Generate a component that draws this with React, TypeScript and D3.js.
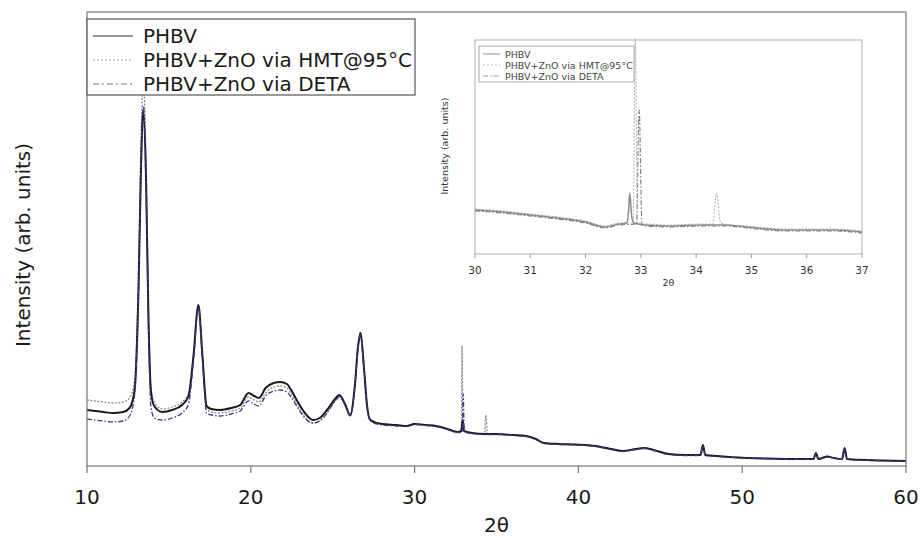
import React from "react";
import * as d3 from "d3";

type Pt = [number, number];

// ---- Main chart data: [2θ, intensity (arb. units)] ----
const phbv: Pt[] = [
  [10, 56], [10.5, 55], [11, 54], [11.6, 53], [12.2, 54], [12.6, 58], [12.9, 75], [13.15, 180],
  [13.3, 300], [13.44, 356], [13.6, 290], [13.75, 150], [13.9, 75], [14.1, 60], [14.6, 54],
  [15.2, 56], [15.8, 61], [16.2, 70], [16.5, 110], [16.8, 161], [17.05, 110], [17.3, 60],
  [17.6, 57], [18.1, 56], [18.8, 58], [19.35, 61], [19.86, 73], [20.2, 70], [20.5, 68],
  [20.9, 78], [21.4, 83], [21.8, 84], [22.2, 82], [22.5, 75], [22.8, 66], [23.3, 53],
  [23.8, 46], [24.2, 48], [24.65, 56], [25.1, 66], [25.4, 71], [25.75, 62], [26.07, 51],
  [26.35, 80], [26.55, 120], [26.7, 133], [26.9, 100], [27.1, 60], [27.3, 46], [28.0, 42],
  [28.9, 41], [29.5, 40], [30.0, 42], [30.7, 41], [31.3, 40], [32.0, 37], [32.6, 34],
  [32.85, 35], [32.93, 46], [33.02, 35], [33.5, 33], [34.27, 32], [35.0, 32], [36.0, 31],
  [36.8, 30], [37.4, 27], [37.9, 23], [38.8, 22], [39.8, 21.5], [41.05, 20], [42.0, 17],
  [42.75, 15], [43.5, 17], [44.0, 18], [44.6, 16], [45.5, 12], [46.5, 11], [47.45, 11],
  [47.6, 21], [47.75, 11], [48.5, 10], [50.0, 8.3], [51.5, 7.5], [53.4, 7], [54.35, 7],
  [54.5, 13], [54.65, 7], [55.2, 9.4], [55.6, 8], [56.1, 7], [56.25, 18], [56.4, 7],
  [57.5, 6], [60.0, 5],
];

const hmt: Pt[] = [
  [10, 66], [11, 64], [11.6, 63], [12.2, 64], [12.6, 68], [12.9, 85], [13.15, 200],
  [13.3, 330], [13.44, 385], [13.6, 310], [13.75, 160], [13.9, 80], [14.1, 64], [14.6, 57],
  [15.2, 59], [15.8, 64], [16.2, 72], [16.5, 110], [16.8, 160], [17.05, 108], [17.3, 57],
  [17.6, 54], [18.1, 53], [18.8, 55], [19.35, 58], [19.86, 69], [20.2, 66], [20.5, 64],
  [20.9, 73], [21.4, 79], [21.8, 80], [22.2, 78], [22.5, 71], [22.8, 62], [23.3, 49],
  [23.8, 43], [24.2, 45], [24.65, 53], [25.1, 64], [25.4, 70], [25.75, 61], [26.07, 50],
  [26.35, 80], [26.55, 120], [26.7, 134], [26.9, 100], [27.1, 60], [27.3, 46], [28.0, 42],
  [28.9, 41], [29.5, 40], [30, 42], [30.7, 41], [31.3, 40], [32, 37], [32.6, 34],
  [32.85, 35], [32.9, 120], [32.95, 35], [33.5, 33], [34.27, 32], [34.35, 51], [34.45, 32],
  [35, 32], [36, 31], [36.8, 30], [37.4, 27], [37.9, 23], [38.8, 22], [39.8, 21.5],
  [41.05, 20], [42, 17], [42.75, 15], [43.5, 17], [44, 18], [44.6, 16], [45.5, 12],
  [46.5, 11], [47.45, 11], [47.6, 20], [47.75, 11], [48.5, 10], [50, 8.3], [51.5, 7.5],
  [53.4, 7], [54.35, 7], [54.5, 12], [54.65, 7], [55.2, 9], [55.6, 8], [56.1, 7],
  [56.25, 17], [56.4, 7], [57.5, 6], [60, 5],
];

const deta: Pt[] = [
  [10, 47], [11, 45], [11.6, 44], [12.2, 45], [12.6, 50], [12.9, 70], [13.15, 180],
  [13.3, 310], [13.44, 360], [13.6, 290], [13.75, 140], [13.9, 60], [14.1, 48], [14.6, 46],
  [15.2, 48], [15.8, 53], [16.2, 62], [16.5, 105], [16.8, 158], [17.05, 105], [17.3, 53],
  [17.6, 51], [18.1, 50], [18.8, 52], [19.35, 55], [19.86, 65], [20.2, 62], [20.5, 60],
  [20.9, 70], [21.4, 75], [21.8, 76], [22.2, 74], [22.5, 68], [22.8, 60], [23.3, 48],
  [23.8, 43], [24.2, 45], [24.65, 53], [25.1, 64], [25.4, 69], [25.75, 61], [26.07, 50],
  [26.35, 78], [26.55, 118], [26.7, 131], [26.9, 98], [27.1, 58], [27.3, 45], [28, 41],
  [28.9, 40], [29.5, 39.5], [30, 41.5], [30.7, 40.5], [31.3, 39.5], [32, 36.5], [32.6, 33.5],
  [32.92, 34], [32.97, 72], [33.03, 34], [33.5, 32.5], [34.27, 31.5], [35, 31.5], [36, 30.5],
  [36.8, 29.5], [37.4, 26.5], [37.9, 22.5], [38.8, 21.5], [39.8, 21], [41.05, 19.5],
  [42, 16.5], [42.75, 14.5], [43.5, 16.5], [44, 17.5], [44.6, 15.5], [45.5, 11.5],
  [46.5, 10.5], [47.45, 10.5], [47.6, 20], [47.75, 10.5], [48.5, 9.5], [50, 8], [51.5, 7.2],
  [53.4, 6.8], [54.35, 6.8], [54.5, 12], [54.65, 6.8], [55.2, 9], [55.6, 7.8], [56.1, 6.8],
  [56.25, 17], [56.4, 6.8], [57.5, 5.8], [60, 4.8],
];

// ---- Inset data (30–37°) ----
const insetPhbv: Pt[] = [
  [30, 44], [30.5, 42], [31, 39], [31.5, 36], [32, 32], [32.35, 27], [32.6, 30], [32.75, 31],
  [32.78, 45], [32.8, 61], [32.83, 40], [32.87, 31], [33.1, 29], [33.5, 28], [34.1, 29],
  [34.5, 29], [35.1, 26], [35.6, 24], [36.5, 24], [37, 22],
];
const insetHmt: Pt[] = [
  [30, 45], [30.5, 43], [31, 40], [31.5, 37], [32, 33], [32.35, 28], [32.6, 31], [32.86, 31],
  [32.9, 216], [32.94, 30], [33.1, 30], [33.5, 29], [34.1, 30], [34.3, 30], [34.37, 61],
  [34.44, 31], [34.5, 30], [35.1, 27], [35.6, 25], [36.5, 25], [37, 23],
];
const insetDeta: Pt[] = [
  [30, 43], [30.5, 41], [31, 38], [31.5, 35], [32, 31], [32.35, 26], [32.6, 29], [32.92, 30],
  [32.97, 144], [33.02, 29], [33.1, 28], [33.5, 27], [34.1, 28], [34.5, 28], [35.1, 25],
  [35.6, 23], [36.5, 23], [37, 21],
];

const legendLabels = ["PHBV", "PHBV+ZnO via HMT@95°C", "PHBV+ZnO via DETA"];
const mainTicks = [10, 20, 30, 40, 50, 60];
const insetTicks = [30, 31, 32, 33, 34, 35, 36, 37];

const FONT = "'DejaVu Sans', Verdana, sans-serif";

export default function App() {
  const W = 924, H = 538;
  const m = { left: 87, right: 906, top: 12, bottom: 466 };
  const x = d3.scaleLinear().domain([10, 60]).range([m.left, m.right]);
  const y = d3.scaleLinear().domain([0, 454]).range([m.bottom, m.top]);

  const ins = { left: 475, right: 862, top: 40, bottom: 254 };
  const xi = d3.scaleLinear().domain([30, 37]).range([ins.left, ins.right]);
  const yi = d3.scaleLinear().domain([0, 214]).range([ins.bottom, ins.top]);

  const line = d3.line<Pt>().x(d => x(d[0])).y(d => y(d[1])).curve(d3.curveMonotoneX);
  const lineI = d3.line<Pt>().x(d => xi(d[0])).y(d => yi(d[1])).curve(d3.curveMonotoneX);

  const mainStyles = [
    { data: hmt, stroke: "#8a8a8a", w: 1.3, dash: "2,1.5" },
    { data: phbv, stroke: "#1a1a1a", w: 2, dash: undefined },
    { data: deta, stroke: "#3b3b8f", w: 1.3, dash: "5,2,1.5,2" },
  ];
  const legendStyles = [
    { stroke: "#333", w: 1.2, dash: undefined },
    { stroke: "#999", w: 1.2, dash: "2,2" },
    { stroke: "#777", w: 1.2, dash: "6,3,2,3" },
  ];
  const insetStyles = [
    { data: insetDeta, stroke: "#777777", w: 1.1, dash: "5,2,1.5,2" },
    { data: insetHmt, stroke: "#b5b5b5", w: 1.1, dash: "2,1.5" },
    { data: insetPhbv, stroke: "#8a8a8a", w: 1.5, dash: undefined },
  ];
  const insetLegendStyles = [
    { stroke: "#c8c8c8", w: 2, dash: undefined },
    { stroke: "#bbb", w: 1, dash: "2,2" },
    { stroke: "#999", w: 1, dash: "5,2,1.5,2" },
  ];

  return (
    <svg width={W} height={H} style={{ position: "absolute", left: 0, top: 0, background: "#fff" }}
      fontFamily={FONT}>
      <rect x={0} y={0} width={W} height={H} fill="#fff" />
      {/* main curves */}
      <g>
        {mainStyles.map((s, i) => (
          <path key={i} d={line(s.data) || ""} fill="none" stroke={s.stroke} strokeWidth={s.w}
            strokeDasharray={s.dash} strokeLinejoin="round" />
        ))}
      </g>
      {/* frame */}
      <rect x={m.left} y={m.top} width={m.right - m.left} height={m.bottom - m.top}
        fill="none" stroke="#777" strokeWidth={1.2} />
      {mainTicks.map(t => (
        <g key={t}>
          <line x1={x(t)} x2={x(t)} y1={m.bottom} y2={m.bottom + 7} stroke="#777" strokeWidth={1.2} />
          <text x={x(t)} y={504} textAnchor="middle" fontSize={20} fill="#1a1a1a">{t}</text>
        </g>
      ))}
      <text x={(m.left + m.right) / 2} y={532} textAnchor="middle" fontSize={20} fill="#1a1a1a">2θ</text>
      <text transform={`translate(30,${(m.top + m.bottom) / 2 + 6}) rotate(-90)`} textAnchor="middle"
        fontSize={20} fill="#1a1a1a">Intensity (arb. units)</text>

      {/* main legend */}
      <rect x={m.left} y={19} width={415 - m.left} height={95 - 19} fill="#fff" stroke="#555" strokeWidth={1.2} />
      {legendLabels.map((l, i) => {
        const ly = 36 + i * 24;
        const s = legendStyles[i];
        return (
          <g key={l}>
            <line x1={93} x2={133} y1={ly} y2={ly} stroke={s.stroke} strokeWidth={s.w} strokeDasharray={s.dash} />
            <text x={143} y={ly + 7} fontSize={20} fill="#1a1a1a">{l}</text>
          </g>
        );
      })}

      {/* inset */}
      <rect x={ins.left} y={ins.top} width={ins.right - ins.left} height={ins.bottom - ins.top}
        fill="#fff" stroke="#b0b0b0" strokeWidth={1} />
      {insetStyles.map((s, i) => (
        <path key={i} d={lineI(s.data) || ""} fill="none" stroke={s.stroke} strokeWidth={s.w}
          strokeDasharray={s.dash} strokeLinejoin="round" />
      ))}
      {insetTicks.map(t => (
        <g key={t}>
          <line x1={xi(t)} x2={xi(t)} y1={ins.bottom} y2={ins.bottom + 4} stroke="#999" />
          <text x={xi(t)} y={274} textAnchor="middle" fontSize={10.5} fill="#333">{t}</text>
        </g>
      ))}
      <text x={(ins.left + ins.right) / 2} y={286} textAnchor="middle" fontSize={9.5} fill="#333">2θ</text>
      <text transform={`translate(448,${(ins.top + ins.bottom) / 2 - 1}) rotate(-90)`} textAnchor="middle"
        fontSize={9.5} fill="#333">Intensity (arb. units)</text>
      <rect x={479} y={46} width={634 - 479} height={82 - 46} fill="#fff" fillOpacity={0.9} stroke="#aaa" strokeWidth={1} />
      {legendLabels.map((l, i) => {
        const ly = 54 + i * 11;
        const s = insetLegendStyles[i];
        return (
          <g key={l}>
            <line x1={483} x2={500} y1={ly} y2={ly} stroke={s.stroke} strokeWidth={s.w} strokeDasharray={s.dash} />
            <text x={505} y={ly + 3.5} fontSize={9.5} fill="#444">{l}</text>
          </g>
        );
      })}
    </svg>
  );
}
